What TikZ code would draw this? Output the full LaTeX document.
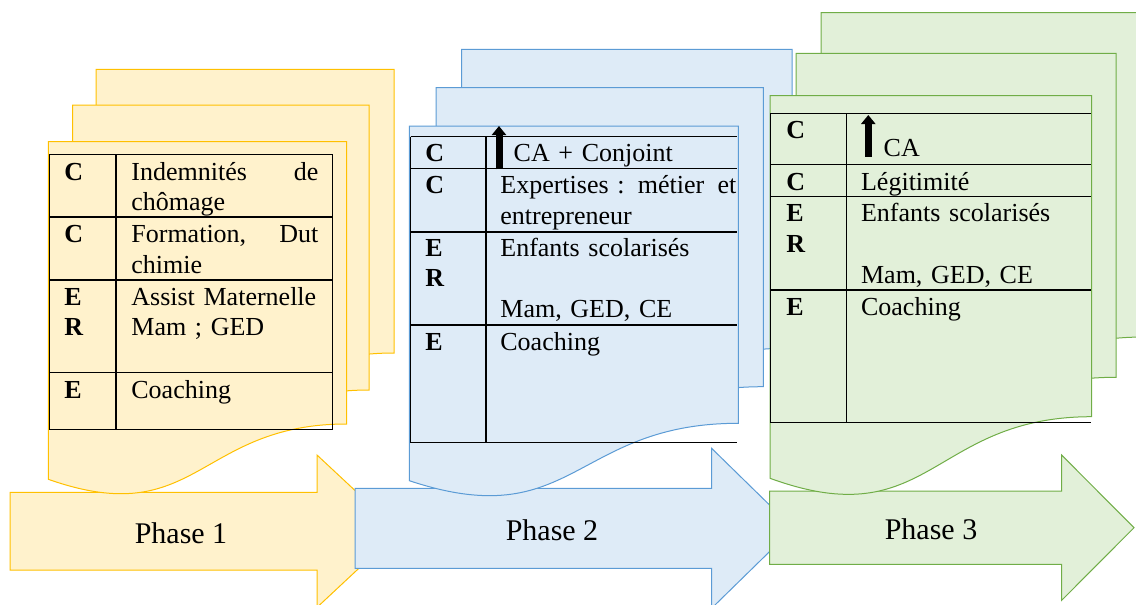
\documentclass[tikz,border=0pt]{standalone}
\usepackage{fontspec}
\setmainfont{Liberation Serif}
\usetikzlibrary{arrows.meta}

\definecolor{yellowFill}{HTML}{FFF2CC}
\definecolor{yellowLine}{HTML}{FFC000}
\definecolor{blueFill}{HTML}{DEEBF7}
\definecolor{blueLine}{HTML}{5B9BD5}
\definecolor{greenFill}{HTML}{E2F0D9}
\definecolor{greenLine}{HTML}{70AD47}

\newcommand{\tabfont}{\fontsize{13}{15.4}\selectfont}
% page with wavy bottom: style, left, top, right, bottom right, bottom left
\newcommand{\docpage}[6]{%
  \draw[#1] (#2,#3) -- (#4,#3) -- (#4,#5)
    .. controls ({(#2+#4)/2},#5) and ({(#2+#4)/2},{#6+0.95*(#6-#5)}) .. (#2,#6) -- cycle;}

\begin{document}
\begin{tikzpicture}[x=0.5pt, y=-0.5pt,
    yellowdoc/.style={draw=yellowLine, fill=yellowFill, line width=0.5pt},
    bluedoc/.style={draw=blueLine, fill=blueFill, line width=0.5pt},
    greendoc/.style={draw=greenLine, fill=greenFill, line width=0.5pt},
    tabline/.style={line width=0.7pt},
    letter/.style={anchor=base west, inner sep=0pt, text width=12pt, align=left, font=\tabfont\bfseries},
    celltext/.style={anchor=base west, inner sep=0pt, text width=#1, align=left, font=\tabfont},
    celltext/.default=110pt,
    phaselabel/.style={font=\fontsize{15}{18}\selectfont},
    uparrow/.style={line width=3.5pt, -{Triangle[width=7pt,length=4.5pt]}}]
    \useasboundingbox (0,0) rectangle (1136,605);
    \clip (0,0) rectangle (1136,605);

    % phase arrows
    \draw[yellowdoc] (10,492.3) -- (317,492.3) -- (317,455) -- (398.6,531.2) -- (317,607.4) -- (317,570) -- (10,570) -- cycle;
    \draw[bluedoc] (355,488.3) -- (711.6,488.3) -- (711.6,448.3) -- (793.4,528.3) -- (711.6,608.3) -- (711.6,568.3) -- (355,568.3) -- cycle;
    \draw[greendoc] (769.6,491) -- (1061.6,491) -- (1061.6,455) -- (1134,527.7) -- (1061.6,600.4) -- (1061.6,564.3) -- (769.6,564.3) -- cycle;
    \node[phaselabel] (phase1) at (181,533) {Phase 1};
    \node[phaselabel] (phase2) at (552,530) {Phase 2};
    \node[phaselabel] (phase3) at (931,529) {Phase 3};

    % phase 1
    \docpage{yellowdoc}{96}{69.3}{394}{353}{408}
    \docpage{yellowdoc}{72.7}{105}{369}{390}{445}
    \docpage{yellowdoc}{48.3}{141.7}{346.7}{424}{479.3}
    \draw[tabline] (49.3,154.3) rectangle (332.7,429.3);
    \draw[tabline] (116,154.3) -- (116,429.3)
        (49.3,217) -- (332.7,217)
        (49.3,280) -- (332.7,280)
        (49.3,372.7) -- (332.7,372.7);
    \node[letter] (c1a) at (64,180) {C};
    \node[letter] (c1b) at (64,242.7) {C};
    \node[letter] (er1) at (64,305) {E\\R};
    \node[letter] (e1) at (64,398) {E};
    \node[celltext=93.5pt] (chomage) at (131,180) {Indemnités\hfill de\\chômage};
    \node[celltext=93.5pt] (formation) at (131,242.7) {Formation,\hfill Dut\\chimie};
    \node[celltext] (assist) at (131,305) {Assist Maternelle\\Mam ; GED};
    \node[celltext] (coaching1) at (131,398) {Coaching};

    % phase 2
    \docpage{bluedoc}{461.7}{49.3}{792}{348}{403}
    \docpage{bluedoc}{436}{87.7}{763.3}{386.7}{441}
    \docpage{bluedoc}{409.3}{126}{738.3}{423.3}{480.7}
    \draw[tabline] (410.7,136.7) -- (736.7,136.7)
        (410.7,168.3) -- (736.7,168.3)
        (410.7,232) -- (736.7,232)
        (410.7,325) -- (736.7,325)
        (410.7,442.7) -- (736.7,442.7)
        (410.7,136.7) -- (410.7,442.7)
        (486,136.7) -- (486,442.7);
    \node[letter] (c2a) at (425,161.7) {C};
    \node[letter] (c2b) at (425,193.3) {C};
    \node[letter] (er2) at (425,256) {E\\R};
    \node[letter] (e2) at (425,350) {E};
    \coordinate (up2bot) at (499,169.3);
    \coordinate (up2top) at (499,126);
    \draw[uparrow] (up2bot) -- (up2top);
    \node[celltext] (conjoint) at (513.3,161.7) {CA + Conjoint};
    \node[celltext=118pt] (expertises) at (500,193.3) {Expertises :\hfill métier\hfill et\\entrepreneur};
    \node[celltext] (enfants2) at (500,256) {Enfants scolarisés\\[15.4pt]Mam, GED, CE};
    \node[celltext] (coaching2) at (500,350) {Coaching};

    % phase 3
    \docpage{greendoc}{821}{12.7}{1145}{337}{392}
    \docpage{greendoc}{796}{53.3}{1116}{377.3}{432}
    \docpage{greendoc}{770}{95.7}{1091.7}{416.7}{478.3}
    \draw[tabline] (770.7,113.3) -- (1091,113.3)
        (770.7,164.3) -- (1091,164.3)
        (770.7,196.7) -- (1091,196.7)
        (770.7,290) -- (1091,290)
        (770.7,422.7) -- (1091,422.7)
        (770.7,113.3) -- (770.7,422.7)
        (846.7,113.3) -- (846.7,422.7);
    \node[letter] (c3a) at (786,138.3) {C};
    \node[letter] (c3b) at (786,190) {C};
    \node[letter] (er3) at (786,221.7) {E\\R};
    \node[letter] (e3) at (786,315) {E};
    \coordinate (up3bot) at (868.3,156.7);
    \coordinate (up3top) at (868.3,115);
    \draw[uparrow] (up3bot) -- (up3top);
    \node[celltext] (ca3) at (883.3,156.7) {CA};
    \node[celltext] (legitimite) at (860.7,190) {Légitimité};
    \node[celltext] (enfants3) at (860.7,221.7) {Enfants scolarisés\\[15.4pt]Mam, GED, CE};
    \node[celltext] (coaching3) at (860.7,315) {Coaching};
\end{tikzpicture}
\end{document}
